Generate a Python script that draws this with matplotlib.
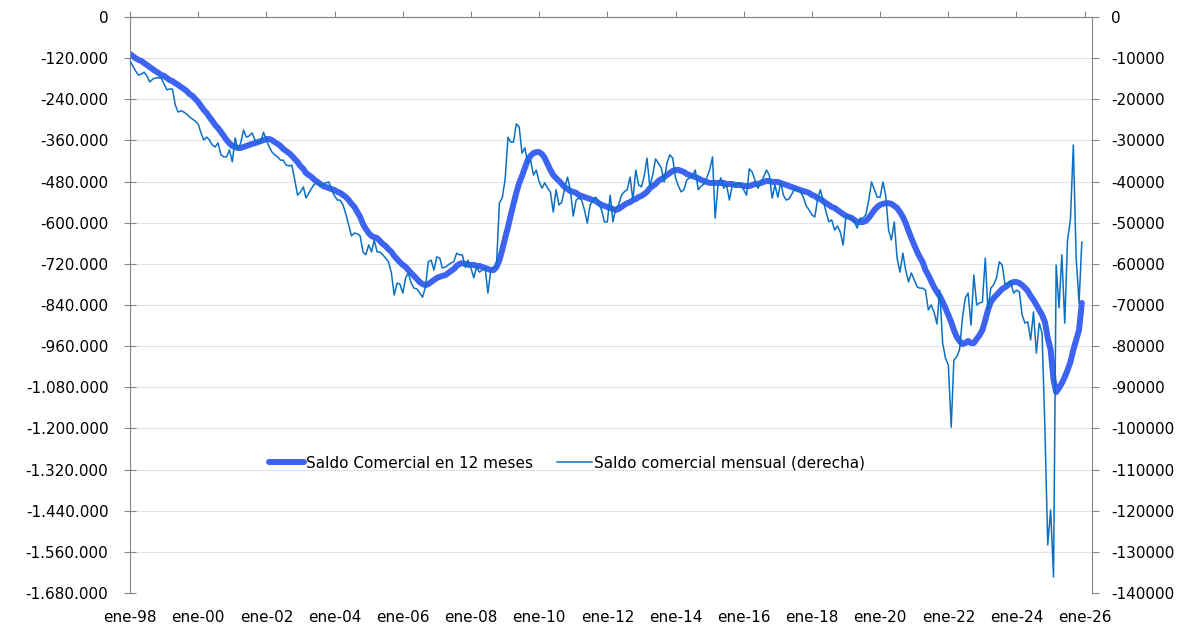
import numpy as np
import pandas as pd
import matplotlib
matplotlib.use("Agg")
import matplotlib.pyplot as plt
from matplotlib.ticker import FuncFormatter, MultipleLocator

# monthly series, Jan 1998 .. Dec 2025
fechas = pd.date_range("1998-01-01", periods=336, freq="MS")

# Saldo comercial mensual (derecha), in thousands
mensual_miles = [
    -10.7, -11.9, -13.1, -14.1, -13.9, -13.4, -14.3, -15.8, -15.1, -14.8, -14.8, -14.8,  # 1998
    -16.3, -17.7, -17.5, -17.5, -21.4, -23.1, -22.8, -23.1, -23.6, -24.3, -24.8, -25.3,  # 1999
    -26.0, -28.2, -29.9, -29.2, -29.9, -31.1, -31.6, -30.6, -33.5, -34.0, -34.0, -32.3,  # 2000
    -35.2, -29.4, -32.3, -30.6, -27.5, -29.2, -28.9, -28.2, -29.9, -30.6, -30.4, -28.0,  # 2001
    -29.9, -31.6, -32.8, -33.5, -34.0, -34.8, -34.8, -36.0, -36.2, -36.0, -39.6, -43.3,  # 2002
    -42.5, -41.3, -44.0, -42.8, -41.6, -40.6, -40.3, -41.1, -40.6, -40.3, -40.1, -42.0,  # 2003
    -43.5, -44.5, -44.5, -45.7, -47.9, -50.6, -53.2, -52.5, -52.7, -53.2, -57.1, -57.8,  # 2004
    -55.4, -57.1, -54.2, -57.1, -57.1, -57.8, -58.6, -59.5, -62.2, -67.6, -64.7, -64.9,  # 2005
    -67.1, -63.4, -62.2, -64.7, -65.9, -66.1, -67.1, -68.1, -65.6, -59.5, -59.1, -61.5,  # 2006
    -58.3, -58.6, -61.0, -60.8, -60.3, -59.8, -59.5, -57.4, -57.8, -57.8, -60.8, -59.1,  # 2007
    -61.0, -63.4, -60.8, -62.0, -61.5, -61.0, -67.1, -61.5, -60.8, -60.3, -45.2, -44.0,  # 2008
    -39.6, -29.2, -30.4, -30.4, -26.0, -26.7, -33.1, -31.8, -35.5, -34.8, -38.4, -37.2,  # 2009
    -40.1, -41.6, -40.3, -41.6, -42.5, -47.4, -42.0, -45.7, -45.0, -41.6, -38.9, -42.0,  # 2010
    -48.4, -44.5, -44.0, -44.5, -46.9, -50.1, -45.7, -44.5, -43.8, -45.5, -46.9, -49.8,  # 2011
    -49.8, -43.3, -49.8, -46.4, -45.7, -43.3, -42.5, -42.0, -38.9, -44.5, -37.2, -40.8,  # 2012
    -41.3, -38.4, -34.3, -41.3, -38.4, -34.5, -35.5, -36.7, -40.1, -35.5, -33.5, -34.3,  # 2013
    -39.1, -41.1, -42.5, -42.0, -39.6, -39.1, -38.6, -37.2, -42.0, -41.1, -40.6, -39.1,  # 2014
    -37.2, -34.0, -48.9, -40.8, -39.1, -41.6, -40.8, -44.5, -40.8, -40.8, -40.3, -40.6,  # 2015
    -42.0, -43.3, -36.9, -37.7, -39.6, -41.6, -40.3, -38.9, -37.2, -38.4, -44.0, -40.8,  # 2016
    -43.8, -40.1, -43.3, -44.5, -44.2, -43.0, -41.6, -42.0, -42.5, -43.8, -45.9, -46.9,  # 2017
    -48.1, -48.6, -44.5, -42.0, -44.5, -47.4, -49.8, -49.3, -51.8, -50.8, -52.3, -55.4,  # 2018
    -48.1, -48.6, -48.9, -49.8, -51.3, -48.9, -48.9, -48.1, -44.5, -40.1, -42.0, -43.8,  # 2019
    -43.8, -40.1, -43.3, -51.8, -54.2, -49.8, -58.6, -62.0, -57.4, -61.5, -64.4, -62.2,  # 2020
    -63.9, -65.6, -65.9, -65.9, -66.4, -71.2, -70.0, -71.7, -74.6, -66.4, -79.2, -82.9,  # 2021
    -84.6, -99.7, -83.4, -82.6, -80.9, -73.2, -68.3, -67.1, -74.9, -62.7, -70.0, -69.5,  # 2022
    -69.3, -58.6, -71.2, -65.9, -65.1, -63.4, -59.5, -60.3, -65.1, -64.7, -64.4, -67.1,  # 2023
    -66.4, -66.8, -72.4, -74.4, -74.1, -78.5, -71.7, -81.7, -74.4, -76.8, -100.4, -128.3,  # 2024
    -119.8, -136.1, -60.3, -70.7, -57.8, -74.4, -54.2, -49.3, -31.1, -58.3, -69.5, -54.7,  # 2025
]

# Saldo Comercial en 12 meses, in thousands
doce_meses_miles = [
    -108, -114, -120, -125, -128, -134, -140, -146, -152, -158, -163, -169,  # 1998
    -172, -178, -184, -187, -193, -198, -204, -210, -216, -225, -230, -239,  # 1999
    -248, -260, -271, -280, -292, -303, -315, -324, -335, -347, -359, -368,  # 2000
    -376, -379, -382, -382, -379, -376, -373, -370, -368, -365, -362, -359,  # 2001
    -356, -356, -359, -365, -370, -376, -385, -391, -397, -405, -414, -423,  # 2002
    -435, -443, -455, -461, -467, -475, -481, -487, -493, -496, -499, -502,  # 2003
    -505, -510, -513, -519, -525, -534, -545, -554, -569, -583, -604, -618,  # 2004
    -630, -639, -642, -645, -653, -662, -668, -677, -685, -697, -706, -715,  # 2005
    -723, -729, -738, -747, -755, -764, -773, -779, -782, -779, -773, -767,  # 2006
    -761, -758, -755, -753, -747, -741, -735, -726, -720, -718, -720, -723,  # 2007
    -723, -723, -726, -726, -729, -732, -735, -738, -738, -729, -709, -680,  # 2008
    -645, -613, -580, -545, -513, -484, -464, -440, -417, -405, -397, -394,  # 2009
    -394, -400, -411, -429, -446, -461, -470, -478, -487, -496, -502, -508,  # 2010
    -510, -513, -519, -522, -525, -528, -531, -534, -537, -543, -548, -551,  # 2011
    -554, -557, -560, -563, -560, -554, -548, -543, -540, -534, -531, -525,  # 2012
    -522, -516, -510, -499, -493, -487, -478, -473, -467, -461, -455, -449,  # 2013
    -446, -446, -449, -452, -458, -461, -464, -467, -470, -475, -478, -481,  # 2014
    -484, -484, -484, -484, -484, -484, -487, -487, -487, -490, -490, -490,  # 2015
    -493, -493, -493, -490, -487, -487, -484, -481, -478, -478, -481, -481,  # 2016
    -481, -484, -487, -490, -493, -496, -499, -502, -505, -508, -510, -513,  # 2017
    -519, -522, -528, -531, -537, -543, -548, -554, -557, -563, -569, -575,  # 2018
    -580, -583, -586, -592, -598, -598, -598, -595, -586, -575, -563, -554,  # 2019
    -548, -545, -543, -543, -545, -551, -557, -569, -583, -601, -624, -645,  # 2020
    -665, -685, -700, -715, -738, -753, -770, -788, -802, -814, -831, -849,  # 2021
    -869, -890, -913, -933, -945, -954, -951, -945, -951, -951, -939, -928,  # 2022
    -913, -884, -855, -831, -820, -811, -802, -793, -788, -782, -776, -773,  # 2023
    -773, -776, -782, -790, -799, -814, -825, -840, -855, -869, -890, -936,  # 2024
    -971, -1058, -1094, -1082, -1068, -1050, -1030, -1006, -971, -942, -913, -834,  # 2025
]

mensual = np.array(mensual_miles) * 1000
doce_meses = np.array(doce_meses_miles) * 1000

tick_years = list(range(1998, 2027, 2))
tick_labels = [f"ene-{y % 100:02d}" for y in tick_years]

plt.rcParams["font.family"] = ["DejaVu Sans"]
fig = plt.figure(figsize=(11.86, 6.26), dpi=100)
ax = fig.add_axes([130 / 1186, 1 - 593 / 626, (1092 - 130) / 1186, (593 - 17) / 626])
ax2 = ax.twinx()

gris = "#868686"
ax.plot(fechas, doce_meses, color="#3d63f2", lw=4.3, solid_capstyle="round",
        label="Saldo Comercial en 12 meses")
ax2.plot(fechas, mensual, color="#0b70c4", lw=1.1, label="Saldo comercial mensual (derecha)")

ax.set_xlim(pd.Timestamp("1998-01-01"), pd.Timestamp("2026-03-20"))
ax.set_ylim(-1680000, 0)
ax2.set_ylim(-140000, 0)

ax.yaxis.set_major_locator(MultipleLocator(120000))
ax2.yaxis.set_major_locator(MultipleLocator(10000))
ax.yaxis.set_major_formatter(FuncFormatter(lambda v, p: f"{v:,.0f}".replace(",", ".")))
ax2.yaxis.set_major_formatter(FuncFormatter(lambda v, p: f"{v:.0f}"))

ax.set_xticks([pd.Timestamp(f"{y}-01-01") for y in tick_years])
ax.set_xticklabels(tick_labels)

ax.grid(axis="y", color="#dbe3f0", lw=0.8)
ax.set_axisbelow(True)

# x axis line sits at zero (top), labels stay at the bottom
ax.spines["bottom"].set_visible(False)
ax2.spines["bottom"].set_visible(False)
for s in ["left", "top", "right"]:
    ax.spines[s].set_color(gris)
    ax2.spines[s].set_color(gris)
ax2.spines["left"].set_visible(False)
ax.spines["right"].set_visible(False)

ax.tick_params(axis="x", top=True, bottom=False, labeltop=False, labelbottom=True,
               direction="out", length=4, pad=8.5, color=gris, labelsize=11)
ax.tick_params(axis="y", direction="inout", length=9, pad=11, color=gris, labelsize=11)
ax2.tick_params(axis="y", direction="out", length=5, pad=9, color=gris, labelsize=11)

h1, l1 = ax.get_legend_handles_labels()
h2, l2 = ax2.get_legend_handles_labels()
fig.legend(h1 + h2, l1 + l2, loc="center", bbox_to_anchor=(567 / 1186, 1 - 463 / 626),
           ncol=2, frameon=False, fontsize=11, handlelength=2.3, handletextpad=0.1,
           columnspacing=1.6)

fig.savefig("out.png", dpi=100)
